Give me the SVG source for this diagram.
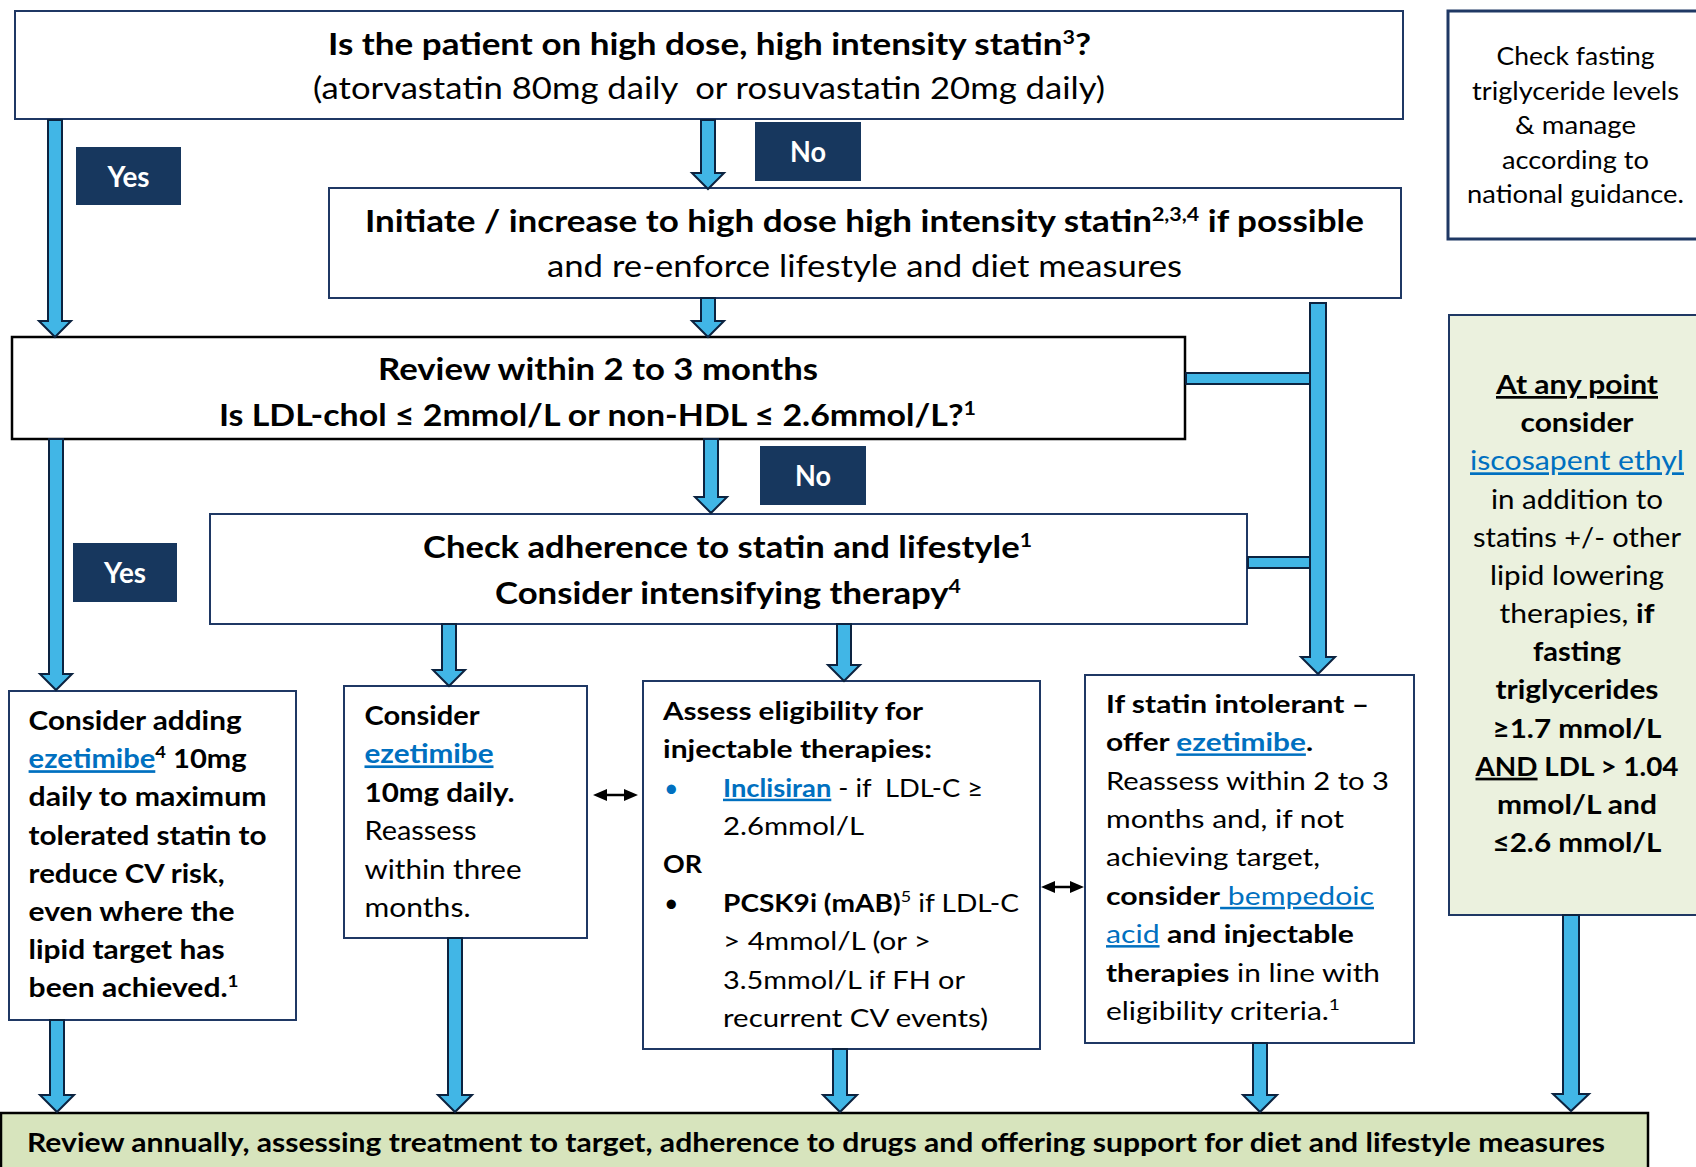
<svg xmlns="http://www.w3.org/2000/svg" width="1696" height="1167" viewBox="0 0 1696 1167">
<style>
text{font-family:Lato,"Liberation Sans",sans-serif;fill:#000}
.b{font-weight:700}
.lk{fill:#0070c0;text-decoration:underline}
.box{fill:#fff;stroke:#1f3864;stroke-width:2}
.lbl{fill:#17375e}
.lt{fill:#fff;font-weight:700;font-size:28px;text-anchor:middle}
.arr{fill:#41b6e6;stroke:#0c2340;stroke-width:2}
.dbl{fill:#000;stroke:#000;stroke-width:2.5}
.f30{font-size:30px}.f31{font-size:31px}.f27{font-size:27px}.f26{font-size:26.5px}.f24{font-size:25px}.f25{font-size:25px}
.c{text-anchor:middle}
</style>
<rect width="1696" height="1167" fill="#fff"/>

<g id="q1">
<rect class="box" x="15" y="11" width="1388" height="108"/>
<text class="b f31" x="328" y="55" textLength="763" lengthAdjust="spacingAndGlyphs">Is the patient on high dose, high intensity statin<tspan font-size="19" dy="-11">3</tspan><tspan dy="11">?</tspan></text>
<text class="f30" x="313" y="99" textLength="792" lengthAdjust="spacingAndGlyphs">(atorvastatin 80mg daily&#160; or rosuvastatin 20mg daily)</text>
</g>

<g id="initiate">
<rect class="box" x="329" y="188" width="1072" height="110"/>
<text class="b f31" x="365" y="232" textLength="999" lengthAdjust="spacingAndGlyphs">Initiate / increase to high dose high intensity statin<tspan font-size="19" dy="-11">2,3,4</tspan><tspan dy="11"> if possible</tspan></text>
<text class="f30" x="547" y="277" textLength="635" lengthAdjust="spacingAndGlyphs">and re-enforce lifestyle and diet measures</text>
</g>

<g id="review">
<rect x="12" y="337" width="1173" height="102" fill="#fff" stroke="#000" stroke-width="2.5"/>
<text class="b f30" x="378" y="380" textLength="440" lengthAdjust="spacingAndGlyphs">Review within 2 to 3 months</text>
<text class="b f30" x="219" y="426" textLength="757" lengthAdjust="spacingAndGlyphs">Is LDL-chol ≤ 2mmol/L or non-HDL ≤ 2.6mmol/L?<tspan font-size="19" dy="-11">1</tspan></text>
</g>

<g id="adherence">
<rect class="box" x="210" y="514" width="1037" height="110"/>
<text class="b f31" x="423" y="558" textLength="609" lengthAdjust="spacingAndGlyphs">Check adherence to statin and lifestyle<tspan font-size="19" dy="-11">1</tspan></text>
<text class="b f31" x="495" y="604" textLength="466" lengthAdjust="spacingAndGlyphs">Consider intensifying therapy<tspan font-size="19" dy="-11">4</tspan></text>
</g>

<g id="label-yes-1">
<rect class="lbl" x="76" y="147" width="105" height="58"/>
<text class="lt" x="128.5" y="187" textLength="42" lengthAdjust="spacingAndGlyphs">Yes</text>
</g>
<g id="label-no-1">
<rect class="lbl" x="755" y="122" width="106" height="59"/>
<text class="lt" x="808" y="162" textLength="36" lengthAdjust="spacingAndGlyphs">No</text>
</g>
<g id="label-no-2">
<rect class="lbl" x="760" y="446" width="106" height="59"/>
<text class="lt" x="813" y="486" textLength="36" lengthAdjust="spacingAndGlyphs">No</text>
</g>
<g id="label-yes-2">
<rect class="lbl" x="73" y="543" width="104" height="59"/>
<text class="lt" x="125" y="583" textLength="42" lengthAdjust="spacingAndGlyphs">Yes</text>
</g>

<g id="add-ezetimibe">
<rect class="box" x="9" y="691" width="287" height="329"/>
<g class="b f27">
<text x="28.6" y="730" textLength="213" lengthAdjust="spacingAndGlyphs">Consider adding</text>
<text x="28.6" y="768.2" textLength="218" lengthAdjust="spacingAndGlyphs"><tspan class="lk">ezetimibe</tspan><tspan font-size="17" dy="-10">4</tspan><tspan dy="10"> 10mg</tspan></text>
<text x="28.6" y="806.4" textLength="238" lengthAdjust="spacingAndGlyphs">daily to maximum</text>
<text x="28.6" y="844.6" textLength="238" lengthAdjust="spacingAndGlyphs">tolerated statin to</text>
<text x="28.6" y="882.8" textLength="196" lengthAdjust="spacingAndGlyphs">reduce CV risk,</text>
<text x="28.6" y="921" textLength="206" lengthAdjust="spacingAndGlyphs">even where the</text>
<text x="28.6" y="959.2" textLength="196" lengthAdjust="spacingAndGlyphs">lipid target has</text>
<text x="28.6" y="997.4" textLength="210" lengthAdjust="spacingAndGlyphs">been achieved.<tspan font-size="17" dy="-10">1</tspan></text>
</g>
</g>

<g id="consider-ezetimibe">
<rect class="box" x="344" y="686" width="243" height="252"/>
<g class="f26">
<text class="b" x="364.5" y="725" textLength="115" lengthAdjust="spacingAndGlyphs">Consider</text>
<text class="b lk" x="364.5" y="763.4" textLength="129" lengthAdjust="spacingAndGlyphs">ezetimibe</text>
<text class="b" x="364.5" y="801.8" textLength="150" lengthAdjust="spacingAndGlyphs">10mg daily.</text>
<text x="364.5" y="840.2" textLength="112" lengthAdjust="spacingAndGlyphs">Reassess</text>
<text x="364.5" y="878.6" textLength="157" lengthAdjust="spacingAndGlyphs">within three</text>
<text x="364.5" y="917" textLength="106" lengthAdjust="spacingAndGlyphs">months.</text>
</g>
</g>

<g id="injectable">
<rect class="box" x="643" y="681" width="397" height="368"/>
<g class="f25">
<text class="b" x="663" y="720" textLength="260" lengthAdjust="spacingAndGlyphs">Assess eligibility for</text>
<text class="b" x="663" y="758.4" textLength="269" lengthAdjust="spacingAndGlyphs">injectable therapies:</text>
<text x="664" y="796.7" fill="#0070c0" style="fill:#0070c0">•</text>
<text x="723" y="796.7" textLength="260" lengthAdjust="spacingAndGlyphs"><tspan class="b lk">Inclisiran</tspan> - if&#160; LDL-C ≥</text>
<text x="723" y="835.1" textLength="141" lengthAdjust="spacingAndGlyphs">2.6mmol/L</text>
<text class="b" x="663" y="873.4" textLength="39" lengthAdjust="spacingAndGlyphs">OR</text>
<text x="664" y="911.8">•</text>
<text x="723" y="911.8" textLength="296" lengthAdjust="spacingAndGlyphs"><tspan class="b">PCSK9i (mAB)</tspan><tspan font-size="16" dy="-10">5</tspan><tspan dy="10"> if LDL-C</tspan></text>
<text x="723" y="950.1" textLength="208" lengthAdjust="spacingAndGlyphs">&gt; 4mmol/L (or &gt;</text>
<text x="723" y="988.5" textLength="242" lengthAdjust="spacingAndGlyphs">3.5mmol/L if FH or</text>
<text x="723" y="1026.8" textLength="265" lengthAdjust="spacingAndGlyphs">recurrent CV events)</text>
</g>
</g>

<g id="statin-intolerant">
<rect class="box" x="1085" y="675" width="329" height="368"/>
<g class="f25">
<text class="b" x="1106" y="713" textLength="263" lengthAdjust="spacingAndGlyphs">If statin intolerant –</text>
<text class="b" x="1106" y="751.4" textLength="207" lengthAdjust="spacingAndGlyphs">offer <tspan class="lk">ezetimibe</tspan>.</text>
<text x="1106" y="789.7" textLength="283" lengthAdjust="spacingAndGlyphs">Reassess within 2 to 3</text>
<text x="1106" y="828.1" textLength="238" lengthAdjust="spacingAndGlyphs">months and, if not</text>
<text x="1106" y="866.4" textLength="214" lengthAdjust="spacingAndGlyphs">achieving target,</text>
<text x="1106" y="904.8" textLength="268" lengthAdjust="spacingAndGlyphs"><tspan class="b">consider</tspan><tspan class="lk"> bempedoic</tspan></text>
<text x="1106" y="943.1" textLength="248" lengthAdjust="spacingAndGlyphs"><tspan class="lk">acid</tspan><tspan class="b"> and injectable</tspan></text>
<text x="1106" y="981.5" textLength="274" lengthAdjust="spacingAndGlyphs"><tspan class="b">therapies</tspan> in line with</text>
<text x="1106" y="1019.8" textLength="234" lengthAdjust="spacingAndGlyphs">eligibility criteria.<tspan font-size="16" dy="-10">1</tspan></text>
</g>
</g>

<g id="triglyceride-check">
<rect x="1448" y="11" width="260" height="228" fill="#fff" stroke="#1f3864" stroke-width="3"/>
<g class="f25 c">
<text x="1575.5" y="65" textLength="158" lengthAdjust="spacingAndGlyphs">Check fasting</text>
<text x="1575.5" y="99.6" textLength="207" lengthAdjust="spacingAndGlyphs">triglyceride levels</text>
<text x="1575.5" y="134.2" textLength="121" lengthAdjust="spacingAndGlyphs">&amp; manage</text>
<text x="1575.5" y="168.8" textLength="147" lengthAdjust="spacingAndGlyphs">according to</text>
<text x="1575.5" y="203.4" textLength="217" lengthAdjust="spacingAndGlyphs">national guidance.</text>
</g>
</g>

<g id="icosapent">
<rect x="1449" y="315" width="260" height="600" fill="#ebf1de" stroke="#1f3864" stroke-width="2"/>
<g class="c" style="font-size:27px">
<text class="b" x="1577" y="394" textLength="162" lengthAdjust="spacingAndGlyphs" text-decoration="underline">At any point</text>
<text class="b" x="1577" y="432.2" textLength="113" lengthAdjust="spacingAndGlyphs">consider</text>
<text class="lk" x="1577" y="470.3" textLength="214" lengthAdjust="spacingAndGlyphs">iscosapent ethyl</text>
<text x="1577" y="508.5" textLength="172" lengthAdjust="spacingAndGlyphs">in addition to</text>
<text x="1577" y="546.7" textLength="208" lengthAdjust="spacingAndGlyphs">statins +/- other</text>
<text x="1577" y="584.9" textLength="174" lengthAdjust="spacingAndGlyphs">lipid lowering</text>
<text x="1577" y="623" textLength="155" lengthAdjust="spacingAndGlyphs">therapies, <tspan class="b">if</tspan></text>
<text class="b" x="1577" y="661.2" textLength="88" lengthAdjust="spacingAndGlyphs">fasting</text>
<text class="b" x="1577" y="699.4" textLength="163" lengthAdjust="spacingAndGlyphs">triglycerides</text>
<text class="b" x="1577" y="737.5" textLength="169" lengthAdjust="spacingAndGlyphs">≥1.7 mmol/L</text>
<text class="b" x="1577" y="775.7" textLength="203" lengthAdjust="spacingAndGlyphs"><tspan text-decoration="underline">AND</tspan> LDL &gt; 1.04</text>
<text class="b" x="1577" y="813.9" textLength="160" lengthAdjust="spacingAndGlyphs">mmol/L and</text>
<text class="b" x="1577" y="852" textLength="169" lengthAdjust="spacingAndGlyphs">≤2.6 mmol/L</text>
</g>
</g>

<g id="annual-review">
<rect x="1" y="1113" width="1647" height="70" fill="#d7e4bd" stroke="#000" stroke-width="2.5"/>
<text class="b f27" x="27" y="1152" textLength="1578" lengthAdjust="spacingAndGlyphs">Review annually, assessing treatment to target, adherence to drugs and offering support for diet and lifestyle measures</text>
</g>

<g id="connectors">
<path class="arr" d="M48,120 H62 V321 H71 L55,337 L39,321 H48 Z"/>
<path class="arr" d="M701,120 H715 V173 H724 L708,189 L692,173 H701 Z"/>
<path class="arr" d="M701,298 H715 V321 H724 L708,337 L692,321 H701 Z"/>
<path class="arr" d="M49,439 H63 V674 H72 L56,690 L40,674 H49 Z"/>
<path class="arr" d="M704,439 H718 V497 H727 L711,513 L695,497 H704 Z"/>
<path class="arr" d="M442,624 H456 V670 H465 L449,686 L433,670 H442 Z"/>
<path class="arr" d="M837,624 H851 V665 H860 L844,681 L828,665 H837 Z"/>
<rect class="arr" x="1186" y="373" width="125" height="11"/>
<rect class="arr" x="1248" y="557" width="63" height="11"/>
<path class="arr" d="M1310,303 H1326 V657 H1335 L1318,674 L1301,657 H1310 Z"/>
<path class="arr" d="M50,1020 H64 V1095 H74 L57,1112 L40,1095 H50 Z"/>
<path class="arr" d="M448,938 H462 V1095 H472 L455,1112 L438,1095 H448 Z"/>
<path class="arr" d="M833,1049 H847 V1095 H857 L840,1112 L823,1095 H833 Z"/>
<path class="arr" d="M1253,1043 H1267 V1095 H1277 L1260,1112 L1243,1095 H1253 Z"/>
<path class="arr" d="M1563,915 H1579 V1094 H1589 L1571,1111 L1553,1094 H1563 Z"/>
<path class="dbl" d="M604,795 H627"/>
<path d="M593,795 L607,789 L607,801 Z M638,795 L624,789 L624,801 Z" fill="#000"/>
<path class="dbl" d="M1052,887 H1073"/>
<path d="M1041,887 L1055,881 L1055,893 Z M1084,887 L1070,881 L1070,893 Z" fill="#000"/>
</g>
</svg>
